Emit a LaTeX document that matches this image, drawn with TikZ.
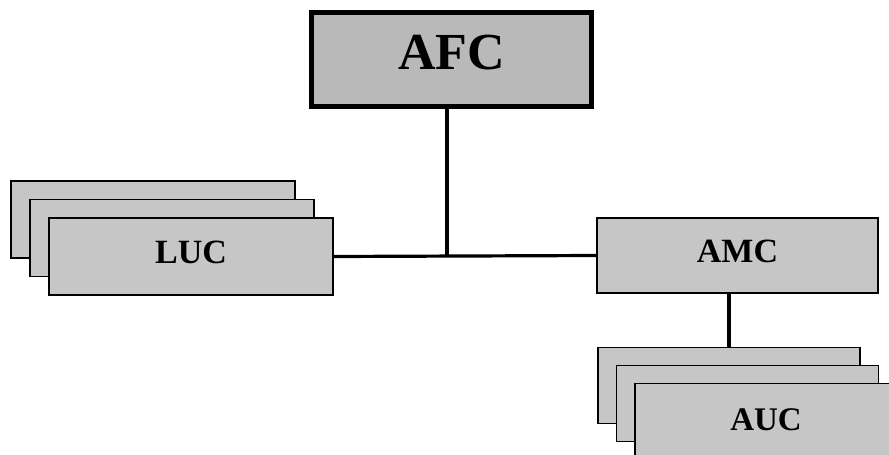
\documentclass[tikz,border=0pt]{standalone}
\usepackage{fontspec}
\setmainfont{Liberation Serif}
\usetikzlibrary{positioning}

\begin{document}
\begin{tikzpicture}[
          x=1pt,y=-1pt,
          unit/.style={draw,line width=1.8pt,fill=gray!45,minimum width=284pt,minimum height=77pt,inner sep=0pt,text depth=8pt,font=\bfseries\fontsize{34}{34}\selectfont},
          sub/.style={unit,minimum width=262pt,minimum height=76pt,text depth=4pt,font=\bfseries\fontsize{33}{33}\selectfont},
          head/.style={unit,line width=4.5pt,fill=gray!55,minimum width=280pt,minimum height=94pt,text depth=14pt,font=\bfseries\fontsize{52}{52}\selectfont},
          link/.style={line width=3.2pt}
        ]
        \clip (0,0) rectangle (889,455);
        \node[head] (afc) at (451.5,59.5) {AFC};
        % LUC stack, back to front
        \coordinate (luc pos) at (191,256.5);
        \foreach \k in {2,1}
          \node[unit] (luc\k) at ([shift={(-19*\k,-18.5*\k)}]luc pos) {};
        \node[unit] (luc) at (luc pos) {LUC};
        \node[unit,minimum width=281pt,minimum height=75pt] (amc) at (737.5,255.5) {AMC};
        % AUC stack, back to front
        \coordinate (auc pos) at (766,421.5);
        \foreach \k in {2,1}
          \node[sub] (auc\k) at ([shift={(-18.5*\k,-18*\k)}]auc pos) {};
        \node[sub] (auc) at (auc pos) {AUC};
        \coordinate (junction) at (447,256);
        \draw[link] (luc.east) -- (amc.west);
        \draw[link] (junction) -- (junction |- afc.south);
        \draw[link] (auc2.north) -- (auc2.north |- amc.south);
      \end{tikzpicture}
\end{document}
